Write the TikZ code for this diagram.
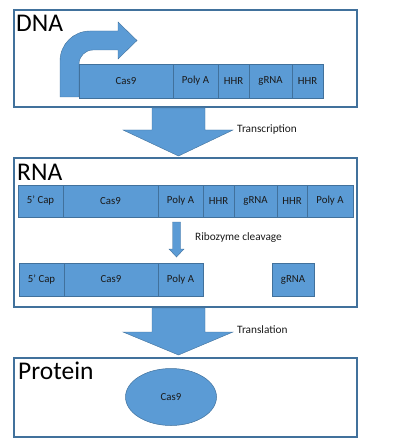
\documentclass[tikz,border=0pt]{standalone}
\usepackage{fontspec}
\setmainfont{Carlito}
\usetikzlibrary{shapes.geometric}
\definecolor{fillblue}{HTML}{5B9BD5}
\definecolor{edgeblue}{HTML}{41719C}
\definecolor{txt}{HTML}{1A1A1A}
\begin{document}
\begin{tikzpicture}[x=1pt,y=-1pt,
  frame/.style={draw=edgeblue, line width=2pt, inner sep=0, minimum width=343pt},
  seg/.style={draw=edgeblue, line width=0.5pt, fill=fillblue, inner sep=0, text=txt,
    font=\fontsize{10.8}{12}\selectfont},
  title/.style={font=\fontsize{25.5}{30}\selectfont, anchor=base west, inner sep=0},
  lbl/.style={font=\fontsize{11.3}{13}\selectfont, anchor=west, inner sep=0, text=txt},
  blockarrow/.style={fill=fillblue, draw=edgeblue, line width=0.4pt}]
\useasboundingbox (0,0) rectangle (400,438);

% frames
\node[frame, minimum height=97pt] (dna) at (185.5,58.5) {};
\node[frame, minimum height=149pt] (rna) at (185.5,232.5) {};
\node[frame, minimum height=79pt] (protein) at (185.5,397.5) {};

\node[title] (dnat) at (16,32) {DNA};
\node[title] (rnat) at (17,181) {RNA};
\node[title] (prott) at (18,379) {Protein};

% bent promoter arrow
\draw[blockarrow] (60,97) -- (60,61) .. controls (60,44.4) and (73.4,31) .. (90,31)
  -- (118,31) -- (118,22) -- (137,40.5) -- (118,59) -- (118,50) -- (93,50)
  .. controls (85.3,50) and (79,56.3) .. (79,64) -- (79,97) -- cycle;

% DNA bar
\begin{scope}[every node/.append style={seg, minimum height=34pt}]
\node[minimum width=94pt] (dcas) at (126,81) {Cas9};
\node[minimum width=45pt] (dpa) at (195.5,81) {Poly A};
\node[minimum width=31pt] (dhhr1) at (233.5,81) {HHR};
\node[minimum width=43pt] (dg) at (270.5,81) {gRNA};
\node[minimum width=31pt] (dhhr2) at (307.5,81) {HHR};
\end{scope}

% Transcription arrow
\draw[blockarrow] (152,108) -- (205,108) -- (205,130) -- (233,130) -- (178.5,156)
  -- (123,130) -- (152,130) -- cycle;
\node[lbl] (tr) at (237,130) {Transcription};

% RNA bar
\begin{scope}[every node/.append style={seg, minimum height=32pt}]
\node[minimum width=45pt] (rcap) at (40.5,201) {5’ Cap};
\node[minimum width=95pt] (rcas) at (110.5,201) {Cas9};
\node[minimum width=45pt] (rpa1) at (180.5,201) {Poly A};
\node[minimum width=31pt] (rhhr1) at (218.5,201) {HHR};
\node[minimum width=43pt] (rg) at (255.5,201) {gRNA};
\node[minimum width=30pt] (rhhr2) at (292,201) {HHR};
\node[minimum width=46pt] (rpa2) at (330,201) {Poly A};
\end{scope}

% Ribozyme arrow
\draw[blockarrow] (172.5,222) -- (180.5,222) -- (180.5,249) -- (184,249) -- (176.5,257)
  -- (169,249) -- (172.5,249) -- cycle;
\node[lbl] (rib) at (195,238) {Ribozyme cleavage};

% cleaved products
\begin{scope}[every node/.append style={seg, minimum height=33pt}]
\node[minimum width=45pt] (ccap) at (41.5,279.5) {5’ Cap};
\node[minimum width=94pt] (ccas) at (111,279.5) {Cas9};
\node[minimum width=45pt] (cpa) at (180.5,279.5) {Poly A};
\node[minimum width=42pt] (cg) at (293,279.5) {gRNA};
\end{scope}

% Translation arrow
\draw[blockarrow] (152,308) -- (205,308) -- (205,332) -- (233,332) -- (178.5,355)
  -- (123,332) -- (152,332) -- cycle;
\node[lbl] (tl) at (237,330) {Translation};

% protein
\node[ellipse, seg, minimum width=91pt, minimum height=57pt] (cas) at (171,397) {Cas9};
\end{tikzpicture}
\end{document}
